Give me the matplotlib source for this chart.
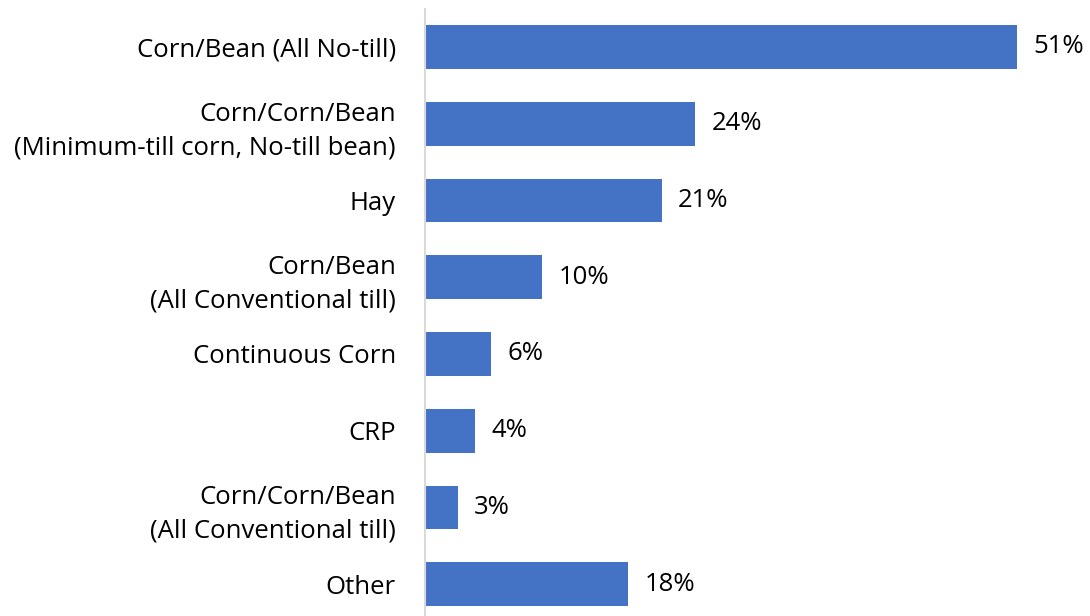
import matplotlib.pyplot as plt

categories = [
    "Corn/Bean (All No-till)",
    "Corn/Corn/Bean\n(Minimum-till corn, No-till bean)",
    "Hay",
    "Corn/Bean\n(All Conventional till)",
    "Continuous Corn",
    "CRP",
    "Corn/Corn/Bean\n(All Conventional till)",
    "Other",
]
# bar lengths as drawn, and the labels printed next to them
values = [51.0, 23.3, 20.4, 10.1, 5.7, 4.3, 2.8, 17.5]
value_labels = ["51%", "24%", "21%", "10%", "6%", "4%", "3%", "18%"]

plt.rcParams["font.family"] = ["Open Sans", "DejaVu Sans"]

fig = plt.figure(figsize=(10.9, 6.16), dpi=100)
ax = fig.add_axes([0.39, -0.0105, 0.61, 0.9965])

pos = list(range(len(categories)))
ax.barh(pos, values, height=0.57, color="#4472C4")
for y, v, lab in zip(pos, values, value_labels):
    ax.text(v + 1.4, y, lab, va="center", ha="left", fontsize=18.5, color="black")

ax.set_yticks(pos)
ax.set_yticklabels(categories, fontsize=18.5, linespacing=1.45)
ax.set_ylim(len(categories) - 0.5, -0.5)
ax.set_xlim(0, 57.3)
ax.set_xticks([])
ax.tick_params(axis="y", length=0, pad=21)
for s in ["top", "right", "bottom"]:
    ax.spines[s].set_visible(False)
ax.spines["left"].set_color("#D9D9D9")
ax.spines["left"].set_linewidth(1.5)

fig.savefig("out.png", dpi=100)
